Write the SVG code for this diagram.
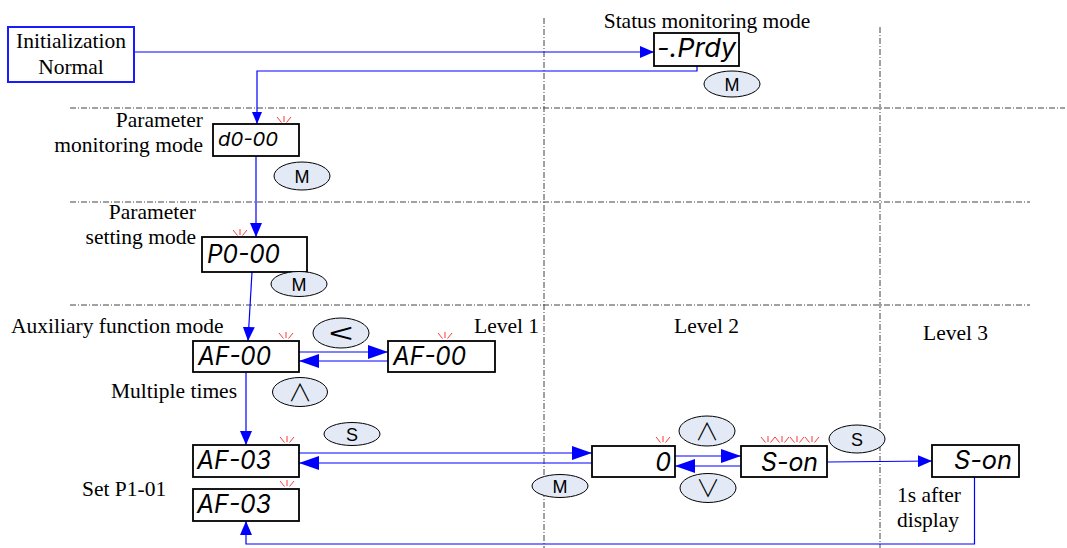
<svg xmlns="http://www.w3.org/2000/svg" width="1067" height="548" viewBox="0 0 1067 548">
<style>
.lbl{font-family:"Liberation Serif","Times New Roman",serif;font-size:21.5px;fill:#000}
.disp{fill:#fff;stroke:#000;stroke-width:1.8}
.seg{font-family:"Inter","Open Sans","Liberation Sans",sans-serif;font-style:oblique;font-weight:400;font-size:25px;fill:#000}
.btn{fill:#e3eaf6;stroke:#000;stroke-width:1}
.btxt{font-family:"Liberation Sans",Arial,sans-serif;font-size:18px;text-anchor:middle;fill:#000}
.sym{font-family:"Noto Sans CJK SC","DejaVu Sans",sans-serif;font-weight:300;text-anchor:middle;fill:#000}
.grid{stroke:#444;stroke-width:1;stroke-dasharray:6 2 1 2;fill:none}
.conn{stroke:#0000ff;stroke-width:1.2;fill:none}
.spark{stroke:#ff2020;stroke-width:0.9;fill:none}
</style>
<defs>
<marker id="aL" markerUnits="userSpaceOnUse" markerWidth="20" markerHeight="14" refX="20" refY="7" orient="auto"><path d="M0,0 L20,7 L0,14 z" fill="#0000ff"/></marker>
<marker id="aM" markerUnits="userSpaceOnUse" markerWidth="14" markerHeight="12" refX="14" refY="6" orient="auto"><path d="M0,0 L14,6 L0,12 z" fill="#0000ff"/></marker>
<marker id="aS" markerUnits="userSpaceOnUse" markerWidth="12" markerHeight="10" refX="12" refY="5" orient="auto"><path d="M0,0 L12,5 L0,10 z" fill="#0000ff"/></marker>
<path id="spark" class="spark" d="M-7,-6 L-2.5,-0.5 M0,-7 L0,-1 M7,-6 L2.5,-0.5"/>
</defs>

<g id="grid">
<path class="grid" d="M70,108 H1065"/>
<path class="grid" d="M70,202 H1030"/>
<path class="grid" d="M70,305 H1030"/>
<path class="grid" d="M544,18 V548"/>
<path class="grid" d="M880,27 V548"/>
</g>

<g id="connectors">
<path class="conn" d="M134,52 H654" marker-end="url(#aM)"/>
<path class="conn" d="M697,66 V71 H257 V124" marker-end="url(#aS)"/>
<path class="conn" d="M256,156 V237" marker-end="url(#aM)"/>
<path class="conn" d="M252,272 L248,341" marker-end="url(#aM)"/>
<path class="conn" d="M299,352 H388" marker-end="url(#aL)"/>
<path class="conn" d="M388,361 H299" marker-end="url(#aL)"/>
<path class="conn" d="M246,372 V445" marker-end="url(#aM)"/>
<path class="conn" d="M299,453 H592" marker-end="url(#aL)"/>
<path class="conn" d="M592,463 H299" marker-end="url(#aL)"/>
<path class="conn" d="M675,456 H741" marker-end="url(#aL)"/>
<path class="conn" d="M741,466 H675" marker-end="url(#aL)"/>
<path class="conn" d="M827,462 L932,461" marker-end="url(#aM)"/>
<path class="conn" d="M974.5,477 V544 H246 V521" marker-end="url(#aM)"/>
</g>

<g id="init">
<rect x="8" y="27" width="126" height="55" fill="#fff" stroke="#1a1aff" stroke-width="2"/>
<text class="lbl" x="71" y="48" text-anchor="middle">Initialization</text>
<text class="lbl" x="71" y="74" text-anchor="middle">Normal</text>
</g>

<g id="status">
<text class="lbl" x="707" y="28" text-anchor="middle">Status monitoring mode</text>
<rect class="disp" x="654" y="33" width="85" height="33"/>
<text class="seg" x="657" y="57" style="font-size:26px" textLength="79" lengthAdjust="spacingAndGlyphs">-.Prdy</text>
</g>

<g id="param-monitor">
<text class="lbl" x="203" y="127" text-anchor="end">Parameter</text>
<text class="lbl" x="203" y="152" text-anchor="end">monitoring mode</text>
<rect class="disp" x="213" y="124" width="86" height="32"/>
<text class="seg" x="218" y="146" style="font-size:19px" textLength="60" lengthAdjust="spacingAndGlyphs">d0-00</text>
<use href="#spark" x="284" y="123"/>
</g>

<g id="param-setting">
<text class="lbl" x="196" y="219" text-anchor="end">Parameter</text>
<text class="lbl" x="196" y="244" text-anchor="end">setting mode</text>
<rect class="disp" x="202" y="237" width="105" height="35"/>
<text class="seg" x="207" y="263" textLength="73" lengthAdjust="spacingAndGlyphs">P0-00</text>
<use href="#spark" x="240" y="236"/>
</g>

<g id="aux-l1a">
<text class="lbl" x="11" y="333">Auxiliary function mode</text>
<rect class="disp" x="193" y="341" width="106" height="31"/>
<text class="seg" x="198" y="365" textLength="73" lengthAdjust="spacingAndGlyphs">AF-00</text>
<use href="#spark" x="286" y="339"/>
<text class="lbl" x="111" y="398">Multiple times</text>
</g>

<g id="aux-l1b">
<text class="lbl" x="474" y="333">Level 1</text>
<rect class="disp" x="388" y="341" width="107" height="31"/>
<text class="seg" x="393" y="365" textLength="73" lengthAdjust="spacingAndGlyphs">AF-00</text>
<use href="#spark" x="445" y="339"/>
</g>

<g id="af03a">
<rect class="disp" x="193" y="445" width="106" height="32"/>
<text class="seg" x="197" y="469" textLength="74" lengthAdjust="spacingAndGlyphs">AF-03</text>
<use href="#spark" x="287" y="443"/>
</g>

<g id="af03b">
<text class="lbl" x="82" y="496">Set P1-01</text>
<rect class="disp" x="193" y="489" width="106" height="32"/>
<text class="seg" x="197" y="513" textLength="74" lengthAdjust="spacingAndGlyphs">AF-03</text>
<use href="#spark" x="287" y="487"/>
</g>

<g id="level2-zero">
<text class="lbl" x="674" y="333">Level 2</text>
<rect class="disp" x="592" y="446" width="83" height="31"/>
<text class="seg" x="671" y="471" text-anchor="end">0</text>
<use href="#spark" x="663" y="443"/>
</g>

<g id="level2-son">
<rect class="disp" x="741" y="446" width="86" height="31"/>
<text class="seg" x="761" y="471" textLength="57" lengthAdjust="spacingAndGlyphs">S-on</text>
<use href="#spark" x="768" y="443"/>
<use href="#spark" x="782" y="443"/>
<use href="#spark" x="797" y="443"/>
<use href="#spark" x="812" y="443"/>
</g>

<g id="level3-son">
<text class="lbl" x="923" y="340">Level 3</text>
<rect class="disp" x="932" y="445" width="87" height="32"/>
<text class="seg" x="954" y="469" textLength="58" lengthAdjust="spacingAndGlyphs">S-on</text>
<text class="lbl" x="897" y="502">1s after</text>
<text class="lbl" x="897" y="527">display</text>
</g>

<g id="keys">
<g id="key-m1"><ellipse class="btn" cx="732" cy="84" rx="28" ry="13"/><text class="btxt" x="732" y="90.5">M</text></g>
<g id="key-m2"><ellipse class="btn" cx="302" cy="176" rx="28" ry="14"/><text class="btxt" x="302" y="182.5">M</text></g>
<g id="key-m3"><ellipse class="btn" cx="299" cy="284" rx="28" ry="12.5"/><text class="btxt" x="299" y="290.5">M</text></g>
<g id="key-left"><ellipse class="btn" cx="341" cy="333" rx="28" ry="15"/><text class="btxt" transform="translate(341,333) scale(1.4,0.85)" x="0" y="10" style="font-size:30px">&lt;</text></g>
<g id="key-up1"><ellipse class="btn" cx="300" cy="392" rx="27.5" ry="14.5"/><text class="sym" x="300" y="401" style="font-size:24px">∧</text></g>
<g id="key-s1"><ellipse class="btn" cx="352" cy="434" rx="28" ry="11.5"/><text class="btxt" x="352" y="440.5">S</text></g>
<g id="key-up2"><ellipse class="btn" cx="707" cy="431" rx="28" ry="15"/><text class="sym" x="707" y="440" style="font-size:24px">∧</text></g>
<g id="key-down"><ellipse class="btn" cx="708" cy="488" rx="28" ry="14.5"/><text class="sym" x="708" y="497" style="font-size:24px">∨</text></g>
<g id="key-m4"><ellipse class="btn" cx="560" cy="486" rx="28" ry="11.5"/><text class="btxt" x="560" y="492.5">M</text></g>
<g id="key-s2"><ellipse class="btn" cx="857" cy="439" rx="28" ry="14"/><text class="btxt" x="857" y="445.5">S</text></g>
</g>
</svg>
